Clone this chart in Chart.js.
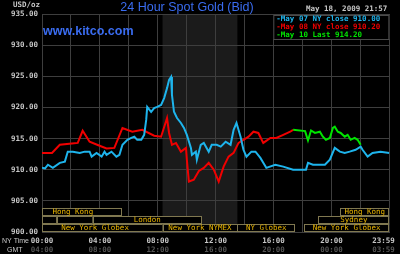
<!DOCTYPE html>
<html>
<head>
<meta charset="utf-8">
<script src="https://cdn.jsdelivr.net/npm/chart.js@4.4.1/dist/chart.umd.min.js"></script>
<style>
  html, body { margin: 0; padding: 0; background: #000; }
  #wrap { width: 400px; height: 254px; }
</style>
</head>
<body>
<div id="wrap"><canvas id="goldChart" width="400" height="254"></canvas></div>
<script>
// hours after NY midnight and bid price
const may07Hours = [0, 0.21, 0.41, 0.75, 1.23, 1.58, 1.78, 2.13, 2.61, 2.95, 3.29, 3.43, 3.77, 4.12, 4.32, 4.46, 4.8, 5.14, 5.35, 5.56, 5.9, 6.17, 6.38, 6.58, 6.86, 7.06, 7.2, 7.27, 7.54, 7.75, 7.96, 8.23, 8.44, 8.64, 8.78, 8.92, 8.98, 9.12, 9.33, 9.6, 9.81, 10.01, 10.29, 10.36, 10.63, 10.7, 10.97, 11.18, 11.52, 11.73, 12.07, 12.35, 12.69, 13.03, 13.24, 13.44, 13.72, 13.92, 14.13, 14.47, 14.75, 15.09, 15.29, 15.5, 16.12, 16.67, 17.35, 18.24, 18.38, 18.72, 19.55, 19.89, 20.23, 20.58, 20.92, 21.26, 21.67, 22.02, 22.15, 22.5, 22.84, 23.39, 24];
const may07Bid = [910.3, 910.2, 910.8, 910.3, 911.1, 911.3, 912.9, 912.9, 912.7, 912.9, 912.9, 912.1, 912.7, 912.1, 912.9, 912.4, 912.9, 912.1, 912.4, 914.0, 914.8, 915.1, 915.3, 914.8, 914.8, 915.6, 918.0, 920.1, 919.3, 919.9, 920.1, 920.4, 921.5, 923.1, 924.4, 924.9, 922.0, 919.3, 918.3, 917.5, 916.7, 915.6, 913.5, 912.4, 912.9, 911.6, 914.0, 914.3, 912.9, 914.0, 914.0, 913.7, 914.5, 914.0, 916.4, 917.5, 915.3, 913.2, 912.1, 912.9, 912.9, 911.9, 911.1, 910.3, 910.8, 910.5, 910.0, 910.0, 911.1, 910.8, 910.8, 911.6, 913.5, 912.9, 912.7, 912.9, 913.2, 913.7, 913.2, 912.1, 912.7, 912.9, 912.7];

const may08Hours = [0, 0.69, 1.23, 2.06, 2.47, 2.81, 3.29, 3.98, 4.46, 5.0, 5.56, 6.24, 6.93, 7.75, 8.23, 8.64, 8.78, 8.98, 9.26, 9.6, 9.95, 10.01, 10.15, 10.49, 10.84, 11.18, 11.52, 11.87, 12.21, 12.55, 12.89, 13.24, 13.58, 13.92, 14.27, 14.61, 14.95, 15.29, 15.78, 16.19, 16.67, 17.15, 17.35];
const may08Bid = [912.7, 912.7, 914.0, 914.2, 914.3, 916.25, 914.5, 913.85, 913.4, 913.5, 916.7, 916.1, 916.4, 915.45, 915.3, 918.3, 915.9, 914.0, 914.3, 912.9, 913.5, 911.6, 908.1, 908.4, 909.8, 910.3, 911.1, 910.0, 908.1, 910.5, 912.1, 912.7, 914.3, 914.8, 915.3, 916.1, 915.9, 914.3, 915.1, 915.1, 915.6, 916.1, 916.4];

const may10Hours = [17.35, 18.18, 18.38, 18.59, 18.86, 19.2, 19.41, 19.62, 19.89, 20.1, 20.23, 20.44, 20.64, 20.92, 21.12, 21.33, 21.6, 21.81, 22.02];
const may10Bid = [916.4, 916.2, 914.7, 916.3, 915.9, 916.1, 915.3, 914.8, 915.1, 916.7, 916.9, 916.1, 915.9, 915.3, 915.6, 914.8, 915.1, 914.8, 914.0];

const seriesLabels = ['May 07 NY close 910.00', 'May 08 NY close 910.20', 'May 10 Last 914.20'];

const priceTicks = [900, 905, 910, 915, 920, 925, 930, 935];
const nyTimeLabels = ['00:00', '04:00', '08:00', '12:00', '16:00', '20:00', '23:59'];
const gmtLabels = ['04:00', '08:00', '12:00', '16:00', '20:00', '00:00', '03:59'];

// trading sessions (NY hours), row 0 = top
const sessionNames = ['Hong Kong', '', '', 'London', 'New York Globex', 'New York NYMEX', 'NY Globex', 'New York Globex', 'Sydney', 'Hong Kong'];
const sessionStart = [-1.3, 0, 1.03, 3.5, -1.0, 8.33, 13.5, 18.1, 19.1, 20.6];
const sessionEnd = [5.56, 1.03, 3.5, 11.05, 8.33, 13.5, 17.5, 24, 24, 24];
const sessionRow = [0, 1, 1, 1, 2, 2, 2, 2, 1, 0];

const nymexOpen = 8.33, nymexClose = 13.5;

const monoFont = '"DejaVu Sans Mono", monospace';

const kitcoDecor = {
    id: 'kitcoDecor',
    beforeDraw(chart) {
        const { ctx, chartArea: a, scales: { x } } = chart;
        ctx.save();
        ctx.fillStyle = '#1b1b1b';
        const x0 = x.getPixelForValue(nymexOpen), x1 = x.getPixelForValue(nymexClose);
        ctx.fillRect(x0, a.top, x1 - x0, a.bottom - a.top);
        ctx.restore();
    },
    afterDraw(chart) {
        const { ctx, chartArea: a, scales: { x, y } } = chart;
        ctx.save();

        // session boxes
        const rowTop = [903.9, 902.6, 901.3];
        const rowH = 1.3;
        ctx.font = '7.5px ' + monoFont;
        ctx.textAlign = 'center';
        ctx.textBaseline = 'middle';
        sessionNames.forEach((name, i) => {
            const r = sessionRow[i];
            const left = Math.max(x.getPixelForValue(sessionStart[i]), a.left);
            const right = Math.min(x.getPixelForValue(sessionEnd[i]), a.right);
            const top = Math.round(y.getPixelForValue(rowTop[r])) + 0.5;
            const bot = Math.round(y.getPixelForValue(rowTop[r] - rowH)) - 0.5;
            ctx.fillStyle = '#000';
            ctx.fillRect(left, top, right - left, bot - top);
            ctx.strokeStyle = '#807850';
            ctx.lineWidth = 1;
            ctx.strokeRect(Math.round(left) + 0.5, top, Math.round(right - left) - 1, bot - top);
            if (name) {
                const cx = (x.getPixelForValue(sessionStart[i]) + x.getPixelForValue(sessionEnd[i])) / 2;
                ctx.fillStyle = '#e8b400';
                ctx.fillText(name, Math.min(cx, right - ctx.measureText(name).width / 2 - 3), (top + bot) / 2 + 0.5);
            }
        });

        // legend box
        const lw = 116, lh = 24;
        const lx = a.right - lw, ly = a.top + 1;
        ctx.fillStyle = '#000';
        ctx.fillRect(lx, ly, lw, lh);
        ctx.strokeStyle = '#4a4a4a';
        ctx.strokeRect(lx + 0.5, ly + 0.5, lw - 1, lh);
        ctx.font = 'bold 7.5px ' + monoFont;
        ctx.textAlign = 'left';
        chart.data.datasets.forEach((ds, i) => {
            ctx.fillStyle = ds.borderColor;
            ctx.fillText('-' + ds.label, lx + 3, ly + 4 + i * 8);
        });

        // title and captions
        ctx.textAlign = 'center';
        ctx.fillStyle = '#3a6cf0';
        ctx.font = '12.5px "Liberation Sans", Arial, sans-serif';
        ctx.fillText('24 Hour Spot Gold (Bid)', 187, 7.5);
        ctx.textAlign = 'left';
        ctx.font = 'bold 12.5px "Liberation Sans", Arial, sans-serif';
        ctx.fillText('www.kitco.com', 43, 31.5);

        ctx.fillStyle = '#c8c8c8';
        ctx.font = 'bold 7.5px ' + monoFont;
        ctx.fillText('May 18, 2009 21:57', 306, 9);
        ctx.fillText('USD/oz', 13, 5);
        ctx.font = '7px "Liberation Sans", Arial, sans-serif';
        ctx.fillText('NY Time', 2, 241);
        ctx.fillText('GMT', 7, 250.5);
        ctx.restore();
    }
};

const makeSeries = (hours, values) => hours.map((h, i) => ({ x: h, y: values[i] }));

const ctx = document.getElementById('goldChart').getContext('2d');
const goldChart = new Chart(ctx, {
    type: 'line',
    data: {
        datasets: [{
            label: seriesLabels[0],
            data: makeSeries(may07Hours, may07Bid),
            borderColor: '#1eb4ec',
            borderWidth: 2
        }, {
            label: seriesLabels[1],
            data: makeSeries(may08Hours, may08Bid),
            borderColor: '#f00000',
            borderWidth: 2
        }, {
            label: seriesLabels[2],
            data: makeSeries(may10Hours, may10Bid),
            borderColor: '#00e400',
            borderWidth: 2
        }]
    },
    options: {
        responsive: false,
        animation: false,
        events: [],
        layout: { padding: { top: 14, right: 7, left: 0, bottom: 0 } },
        elements: { point: { radius: 0 }, line: { tension: 0 } },
        plugins: { legend: { display: false }, tooltip: { enabled: false } },
        scales: {
            x: {
                type: 'linear',
                min: 0, max: 24,
                weight: 0,
                afterBuildTicks: (s) => { s.ticks = Array.from({ length: 13 }, (_, i) => ({ value: i * 2 })); },
                ticks: { display: false },
                grid: { color: '#3e3e3e', drawTicks: false },
                border: { color: '#3e3e3e' },
                afterFit: (s) => { s.height = 0; }
            },
            xNY: {
                type: 'linear',
                position: 'bottom',
                min: 0, max: 24,
                weight: 1,
                afterBuildTicks: (s) => { s.ticks = nyTimeLabels.map((_, i) => ({ value: i < 6 ? i * 4 : 23.6 })); },
                ticks: {
                    autoSkip: false, maxRotation: 0, padding: 5,
                    color: '#c8c8c8',
                    font: { family: monoFont, size: 7.5, weight: 'bold' },
                    callback: (v, i) => nyTimeLabels[i]
                },
                grid: { display: false, drawTicks: false },
                border: { display: false },
                afterFit: (s) => { s.height = 11; }
            },
            xGMT: {
                type: 'linear',
                position: 'bottom',
                min: 0, max: 24,
                weight: 2,
                afterBuildTicks: (s) => { s.ticks = gmtLabels.map((_, i) => ({ value: i < 6 ? i * 4 : 23.6 })); },
                ticks: {
                    autoSkip: false, maxRotation: 0, padding: 3,
                    color: '#555555',
                    font: { family: monoFont, size: 7.5, weight: 'bold' },
                    callback: (v, i) => gmtLabels[i]
                },
                grid: { display: false, drawTicks: false },
                border: { display: false },
                afterFit: (s) => { s.height = 11; }
            },
            y: {
                min: 900, max: 935,
                afterBuildTicks: (s) => { s.ticks = priceTicks.map(v => ({ value: v })); },
                ticks: {
                    padding: 4,
                    color: '#c8c8c8',
                    font: { family: monoFont, size: 7.5, weight: 'bold' },
                    callback: (v) => v.toFixed(2)
                },
                grid: { color: '#3e3e3e', drawTicks: false },
                border: { color: '#3e3e3e' },
                afterFit: (s) => { s.width = 42; }
            }
        }
    },
    plugins: [kitcoDecor]
});
</script>
</body>
</html>
